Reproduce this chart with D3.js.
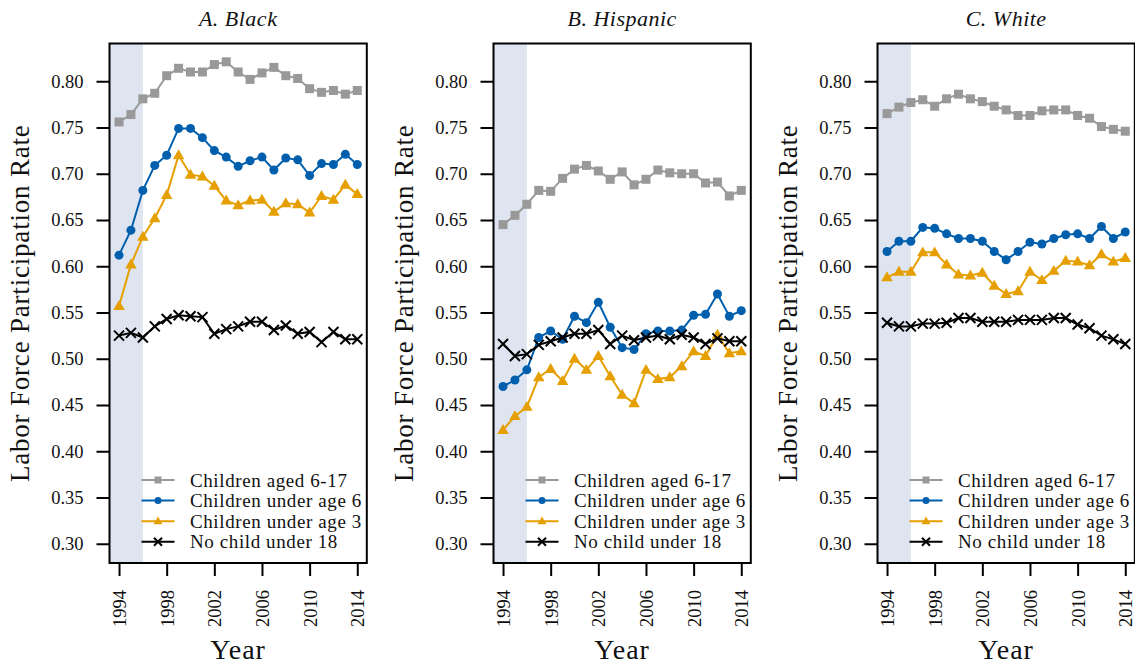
<!DOCTYPE html>
<html>
<head>
<meta charset="utf-8">
<script src="https://cdn.jsdelivr.net/npm/d3@7"></script>
<style>
  html, body { margin: 0; padding: 0; background: #fff; }
  svg { display: block; }
  text { font-family: "Liberation Serif", "Times New Roman", serif; fill: #111; }
</style>
</head>
<body>
<svg id="chart" width="1135" height="664"></svg>
<script>
// Survey years
const years = d3.range(1994, 2015);
const yearTicks = [1994, 1998, 2002, 2006, 2010, 2014];
const rateTicks = [0.30, 0.35, 0.40, 0.45, 0.50, 0.55, 0.60, 0.65, 0.70, 0.75, 0.80];

// Labor force participation of mothers, by race/ethnicity and age of youngest child
const blackAged617 = [0.756, 0.764, 0.781, 0.787, 0.806, 0.814, 0.810, 0.810, 0.818, 0.821, 0.810, 0.802, 0.809, 0.815, 0.806, 0.803, 0.792, 0.788, 0.790, 0.786, 0.790];
const blackUnder6  = [0.612, 0.639, 0.682, 0.709, 0.720, 0.749, 0.749, 0.739, 0.725, 0.718, 0.708, 0.714, 0.718, 0.704, 0.717, 0.715, 0.698, 0.711, 0.710, 0.721, 0.710];
const blackUnder3  = [0.557, 0.602, 0.632, 0.652, 0.677, 0.720, 0.699, 0.697, 0.687, 0.671, 0.666, 0.671, 0.672, 0.659, 0.668, 0.667, 0.658, 0.676, 0.672, 0.688, 0.678];
const blackNoChild = [0.525, 0.528, 0.523, 0.535, 0.543, 0.547, 0.546, 0.545, 0.527, 0.532, 0.535, 0.540, 0.540, 0.531, 0.536, 0.527, 0.529, 0.518, 0.529, 0.521, 0.521];

const hispAged617  = [0.645, 0.655, 0.667, 0.682, 0.681, 0.695, 0.705, 0.709, 0.703, 0.694, 0.702, 0.688, 0.694, 0.704, 0.701, 0.700, 0.700, 0.690, 0.691, 0.676, 0.682];
const hispUnder6   = [0.470, 0.477, 0.488, 0.523, 0.530, 0.521, 0.546, 0.539, 0.561, 0.534, 0.512, 0.510, 0.527, 0.530, 0.530, 0.531, 0.547, 0.548, 0.570, 0.546, 0.552];
const hispUnder3   = [0.423, 0.438, 0.448, 0.480, 0.489, 0.476, 0.500, 0.488, 0.503, 0.481, 0.461, 0.452, 0.488, 0.478, 0.480, 0.492, 0.508, 0.503, 0.526, 0.506, 0.508];
const hispNoChild  = [0.516, 0.503, 0.505, 0.515, 0.519, 0.523, 0.527, 0.527, 0.531, 0.516, 0.525, 0.520, 0.523, 0.525, 0.521, 0.526, 0.523, 0.516, 0.522, 0.519, 0.519];

const whiteAged617 = [0.765, 0.772, 0.777, 0.780, 0.773, 0.781, 0.786, 0.781, 0.778, 0.773, 0.769, 0.763, 0.763, 0.768, 0.769, 0.769, 0.763, 0.760, 0.751, 0.748, 0.746];
const whiteUnder6  = [0.616, 0.627, 0.627, 0.642, 0.641, 0.635, 0.630, 0.630, 0.627, 0.616, 0.607, 0.616, 0.626, 0.624, 0.630, 0.634, 0.635, 0.630, 0.643, 0.630, 0.637];
const whiteUnder3  = [0.588, 0.594, 0.594, 0.615, 0.615, 0.602, 0.591, 0.590, 0.593, 0.579, 0.570, 0.573, 0.594, 0.585, 0.595, 0.606, 0.605, 0.601, 0.613, 0.605, 0.609];
const whiteNoChild = [0.539, 0.535, 0.535, 0.538, 0.538, 0.539, 0.544, 0.544, 0.540, 0.540, 0.540, 0.542, 0.542, 0.542, 0.544, 0.544, 0.537, 0.533, 0.525, 0.521, 0.516];

const seriesNames = ["Children aged 6-17", "Children under age 6", "Children under age 3", "No child under 18"];
const panelTitles = ["A. Black", "B. Hispanic", "C. White"];
const panelData = [
  [blackAged617, blackUnder6, blackUnder3, blackNoChild],
  [hispAged617, hispUnder6, hispUnder3, hispNoChild],
  [whiteAged617, whiteUnder6, whiteUnder3, whiteNoChild]
];
// Shaded span of early years
const shadeYears = [1993.2, 1996];

// Styling
const colors = ["#999999", "#005FAD", "#E69F00", "#000000"];
const shapes = ["square", "circle", "triangle", "cross"];
const shadeColor = "#DEE5F0";

const svg = d3.select("#chart");

const panelLeft = [109.5, 493.5, 877.5];
const panelWidth = 257.3;
const plotTop = 43.5, plotBottom = 563;

// x domain padded by 4% on each side, y domain likewise
const xDom = [1994 - 0.8, 2014 + 0.8];
const yDom = [0.30 - 0.0208, 0.82 + 0.0208];

function drawMarker(g, shape, x, y, color, s) {
  if (shape === "square") {
    g.append("rect").attr("x", x - s * 0.5).attr("y", y - s * 0.5)
      .attr("width", s).attr("height", s).attr("fill", color);
  } else if (shape === "circle") {
    g.append("circle").attr("cx", x).attr("cy", y).attr("r", s * 0.5).attr("fill", color);
  } else if (shape === "triangle") {
    const h = s * 0.866;
    g.append("path")
      .attr("d", `M${x},${y - h * 0.6}L${x + s * 0.5},${y + h * 0.4}L${x - s * 0.5},${y + h * 0.4}Z`)
      .attr("fill", color);
  } else {
    const r = s * 0.5;
    g.append("path")
      .attr("d", `M${x - r},${y - r}L${x + r},${y + r}M${x - r},${y + r}L${x + r},${y - r}`)
      .attr("stroke", color).attr("stroke-width", 2).attr("fill", "none");
  }
}

const markerSize = [9, 9, 11.5, 10];
const legendMarkerSize = [7, 7, 9, 8];

panelData.forEach((series, p) => {
  const left = panelLeft[p], right = left + panelWidth;
  const x = d3.scaleLinear().domain(xDom).range([left, right]);
  const y = d3.scaleLinear().domain(yDom).range([plotBottom, plotTop]);
  const g = svg.append("g");

  // shaded early period
  g.append("rect")
    .attr("x", x(shadeYears[0])).attr("y", plotTop)
    .attr("width", x(shadeYears[1]) - x(shadeYears[0]))
    .attr("height", plotBottom - plotTop)
    .attr("fill", shadeColor);

  // series lines and markers
  series.forEach((vals, si) => {
    const line = d3.line().x((d, i) => x(years[i])).y(d => y(d));
    g.append("path").datum(vals)
      .attr("d", line).attr("fill", "none")
      .attr("stroke", colors[si]).attr("stroke-width", 2);
    vals.forEach((v, i) => drawMarker(g, shapes[si], x(years[i]), y(v), colors[si], markerSize[si]));
  });

  // frame
  g.append("rect").attr("x", left).attr("y", plotTop)
    .attr("width", panelWidth).attr("height", plotBottom - plotTop)
    .attr("fill", "none").attr("stroke", "#000").attr("stroke-width", 2);

  // y axis
  const yAxis = d3.axisLeft(y).tickValues(rateTicks).tickFormat(d3.format(".2f"))
    .tickSize(13).tickPadding(13);
  const ya = g.append("g").attr("transform", `translate(${left},0)`).call(yAxis);
  ya.select(".domain").remove();
  ya.selectAll(".tick line").attr("stroke", "#000").attr("stroke-width", 2);
  ya.selectAll(".tick text").attr("font-size", 18.5).attr("fill", "#111");

  // x axis with vertical labels
  const xAxis = d3.axisBottom(x).tickValues(yearTicks).tickFormat(d3.format("d")).tickSize(13);
  const xa = g.append("g").attr("transform", `translate(0,${plotBottom})`).call(xAxis);
  xa.select(".domain").remove();
  xa.selectAll(".tick line").attr("stroke", "#000").attr("stroke-width", 2);
  xa.selectAll(".tick text")
    .attr("font-size", 18.5).attr("fill", "#111")
    .attr("transform", "rotate(-90)")
    .attr("x", -27).attr("y", 0).attr("dy", "0.35em")
    .attr("text-anchor", "end");

  // title
  g.append("text").attr("x", (left + right) / 2).attr("y", 26)
    .attr("text-anchor", "middle").attr("font-size", 22).attr("font-style", "italic")
    .attr("letter-spacing", 0.5)
    .text(panelTitles[p]);

  // axis titles
  g.append("text").attr("x", (left + right) / 2).attr("y", 659)
    .attr("text-anchor", "middle").attr("font-size", 28).attr("letter-spacing", 1).text("Year");
  g.append("text")
    .attr("transform", `translate(${left - 81},${(plotTop + plotBottom) / 2}) rotate(-90)`)
    .attr("text-anchor", "middle").attr("font-size", 27).attr("letter-spacing", 0.8)
    .text("Labor Force Participation Rate");

  // legend
  const lg = g.append("g");
  seriesNames.forEach((name, si) => {
    const ly = 480 + si * 20.6;
    lg.append("line").attr("x1", left + 32).attr("x2", left + 65)
      .attr("y1", ly).attr("y2", ly).attr("stroke", colors[si]).attr("stroke-width", 2);
    drawMarker(lg, shapes[si], left + 48.5, ly, colors[si], legendMarkerSize[si]);
    lg.append("text").attr("x", left + 80.5).attr("y", ly).attr("dy", "0.35em")
      .attr("font-size", 19).attr("letter-spacing", 0.6).text(name);
  });
});
</script>
</body>
</html>
